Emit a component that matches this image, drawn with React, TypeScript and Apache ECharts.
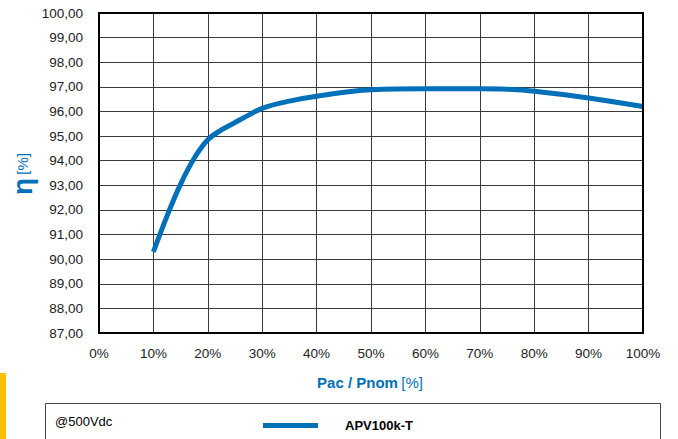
import React, { useEffect, useRef } from "react";
import * as echarts from "echarts";

const loadPct = [10, 12.5, 15, 17.5, 20, 22.5, 25, 27.5, 30, 35, 40, 50, 60, 70, 75, 80, 90, 100];
const efficiency = [90.3, 91.75, 93.05, 94.1, 94.85, 95.25, 95.55, 95.85, 96.13, 96.42, 96.62, 96.88, 96.92, 96.92, 96.9, 96.82, 96.55, 96.2];
const seriesName = "APV100k-T";
const noteText = "@500Vdc";
const xTitle = "Pac / Pnom";
const yTitle = "η";

const BLUE = "#0070B9";
const FONT = "Liberation Sans, Arial, sans-serif";

export default function App() {
  const ref = useRef<HTMLDivElement>(null);
  useEffect(() => {
    const chart = echarts.init(ref.current!, null, { renderer: "svg" });
    chart.setOption({
      animation: false,
      backgroundColor: "#fff",
      textStyle: { fontFamily: FONT },
      grid: { left: 99, right: 35, top: 13, bottom: 106, containLabel: false },
      xAxis: {
        type: "value",
        min: 0,
        max: 100,
        interval: 10,
        axisLine: { show: true, lineStyle: { color: "#000", width: 2 } },
        axisTick: { show: false },
        splitLine: { show: true, lineStyle: { color: "#3a3a3a", width: 1 } },
        axisLabel: { formatter: "{value}%", color: "#222", fontSize: 13.5, margin: 13 },
      },
      yAxis: {
        type: "value",
        min: 87,
        max: 100,
        interval: 1,
        axisLine: { show: true, lineStyle: { color: "#000", width: 2 } },
        axisTick: { show: false },
        splitLine: { show: true, lineStyle: { color: "#3a3a3a", width: 1 } },
        axisLabel: {
          formatter: (v: number) => v.toFixed(2).replace(".", ","),
          color: "#222",
          fontSize: 13.5,
          margin: 16,
        },
      },
      legend: {
        show: true,
        left: 258,
        top: 414,
        icon: "rect",
        itemWidth: 55,
        itemHeight: 5,
        itemGap: 10,
        textStyle: { fontWeight: "bold", fontSize: 13, color: "#000", padding: [0, 0, 0, 22] },
        data: [seriesName],
      },
      graphic: [
        { type: "rect", shape: { x: 99, y: 13, width: 544, height: 320 }, style: { fill: "none", stroke: "#000", lineWidth: 2 }, silent: true, z: 10 },
        { type: "rect", shape: { x: 0, y: 373, width: 6, height: 66 }, style: { fill: "#FFC000" } },
        { type: "rect", shape: { x: 45.5, y: 403.5, width: 615, height: 40 }, style: { fill: "none", stroke: "#444", lineWidth: 1 } },
        { type: "text", x: 55, y: 421, style: { text: noteText, fontSize: 13, fill: "#000", fontFamily: FONT, verticalAlign: "middle" } },
        {
          type: "text",
          x: 370,
          y: 382,
          style: {
            text: "{a|" + xTitle + "} {b|[%]}",
            align: "center",
            verticalAlign: "middle",
            rich: {
              a: { fontSize: 15, fontWeight: "bold", fill: BLUE, fontFamily: FONT },
              b: { fontSize: 15, fill: BLUE, fontFamily: FONT },
            },
          },
        },
        {
          type: "text",
          x: 22,
          y: 174,
          rotation: Math.PI / 2,
          style: {
            text: "{a|" + yTitle + "} {b|[%]}",
            align: "center",
            verticalAlign: "middle",
            rich: {
              a: { fontSize: 28, fontWeight: "bold", fill: BLUE, fontFamily: FONT },
              b: { fontSize: 15, fill: BLUE, fontFamily: FONT },
            },
          },
        },
      ],
      series: [
        {
          name: seriesName,
          type: "line",
          data: loadPct.map((x, i) => [x, efficiency[i]]),
          smooth: 0.4,
          showSymbol: false,
          lineStyle: { color: BLUE, width: 5 },
          itemStyle: { color: BLUE },
          z: 5,
        },
      ],
    });
    return () => chart.dispose();
  }, []);
  return <div ref={ref} style={{ width: 678, height: 439, position: "absolute", left: 0, top: 0 }} />;
}
